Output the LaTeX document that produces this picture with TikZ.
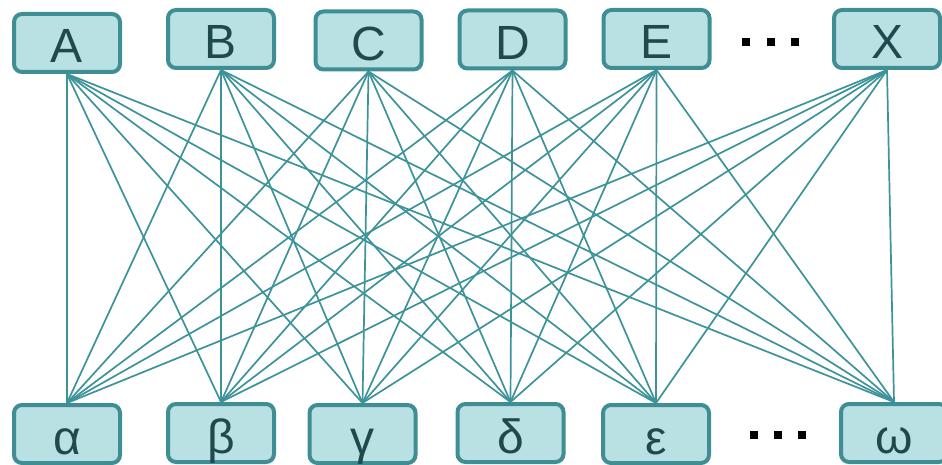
\documentclass[tikz,border=0pt]{standalone}
\usepackage{fontspec}
\setmainfont{Liberation Sans}
\definecolor{boxfill}{HTML}{B9E0E3}
\definecolor{boxline}{HTML}{3F8E93}
\definecolor{boxtext}{HTML}{1F4A4D}
\definecolor{linkc}{HTML}{3C9399}
\begin{document}
\begin{tikzpicture}[x=1pt,y=1pt,
  box/.style={draw=boxline, fill=boxfill, line width=4pt, rounded corners=8pt,
    minimum width=106pt, minimum height=58pt, inner sep=0pt,
    text height=40pt, text depth=0pt, text=boxtext,
    font=\fontsize{48}{48}\selectfont},
  link/.style={draw=linkc, line width=1.7pt},
  sqdot/.style={fill=black, minimum size=8pt, inner sep=0pt}]
\useasboundingbox (0,0) rectangle (942,464);
% top row
\node[box] (A) at (67,421) {A};
\node[box] (B) at (221,425) {B};
\node[box] (C) at (368.5,423.5) {C};
\node[box] (D) at (512.5,424.5) {D};
\node[box] (E) at (656.5,425) {E};
\node[box] (X) at (887,425) {X};
% bottom row
\node[box] (a) at (67,30) {α};
\node[box] (b) at (221,31) {β};
\node[box] (g) at (362.5,30) {γ};
\node[box] (d) at (510.5,31) {δ};
\node[box] (e) at (656,30) {ε};
\node[box] (w) at (894,31) {ω};
% dots
\node[sqdot] (t1) at (746,422) {};
\node[sqdot] (t2) at (771,422) {};
\node[sqdot] (t3) at (795,422) {};
\node[sqdot] (b1) at (754,29) {};
\node[sqdot] (b2) at (778,29) {};
\node[sqdot] (b3) at (802,29) {};
% links
\foreach \u in {A,B,C,D,E,X}
  \foreach \v in {a,b,g,d,e,w}
    \draw[link] (\u.south) -- (\v.north);
\end{tikzpicture}
\end{document}
